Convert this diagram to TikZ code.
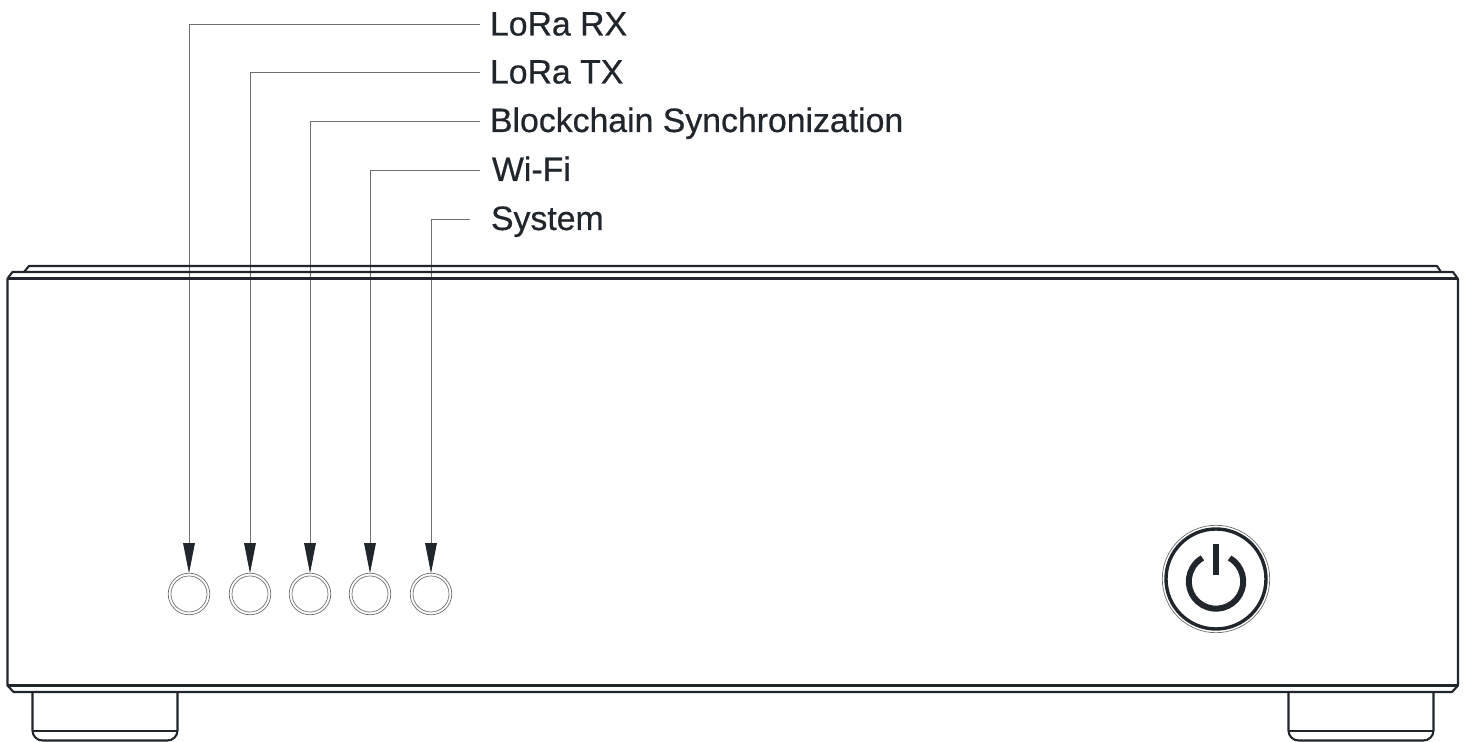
\documentclass[tikz,border=0pt]{standalone}
\usepackage{fontspec}
\setmainfont{Liberation Sans}
\newfontfamily\labfont[FakeBold=0.6]{Liberation Sans}
\usetikzlibrary{arrows.meta}
\definecolor{ink}{HTML}{20262C}
\definecolor{lead}{HTML}{707070}
\tikzset{
  x=0.5pt,y=-0.5pt,
  body/.style={draw=ink,line width=1.05pt,line join=round},
  thickrule/.style={draw=ink,line width=1.3pt},
  ledring/.style={draw=lead,line width=0.35pt},
  led/.style={circle,ledring,minimum size=20.8pt,inner sep=0pt,outer sep=0pt},
  lab/.style={anchor=west,font=\labfont\fontsize{16.9pt}{18pt}\selectfont,text=ink,inner xsep=5pt,inner ysep=0pt,outer sep=0pt,text height=12pt,text depth=1pt},
  leader/.style={draw=lead,line width=0.45pt,-{Triangle[length=15pt,width=5.8pt,color=ink]}},
}
\begin{document}
\begin{tikzpicture}
\useasboundingbox (0,0) rectangle (1464,742);
% LEDs
\foreach \n/\xx in {1/189,2/250,3/310,4/370,5/431}{
  \node[led] (d\n) at (\xx,594) {};
  \draw[ledring] (d\n) circle (9pt);
}
% labels
\node[lab] (l1) at (480,24.5) {LoRa RX};
\node[lab] (l2) at (480,72.5) {LoRa TX};
\node[lab] (l3) at (480,121) {Blockchain Synchronization};
\node[lab,inner xsep=6pt] (l4) at (480,170) {Wi-Fi};
\node[lab,inner xsep=10.5pt] (l5) at (470,219) {System};
\foreach \n in {1,...,5}{
  \draw[leader] (l\n.west) -| (d\n.north);
}
% case
\draw[body] (24,272) -- (29,266) -- (1437,266) -- (1441,272);
\draw[body] (7.5,278.5) -- (12.5,272) -- (1453,272) -- (1458,279);
\draw[body] (7.5,278.5) -- (1458,278.5);
\draw[body] (7.5,278.5) -- (7.5,685.5) -- (13.5,692) -- (1452,692) -- (1458,685.5) -- (1458,278.5);
\draw[body] (7.5,685.5) -- (1458,685.5);
% feet
\foreach \fx in {32.5,1288.5}{
  \draw[body,rounded corners=5pt] (\fx,692) -- (\fx,740.5) -- (\fx+145,740.5) -- (\fx+145,692);
  \draw[thickrule] (\fx,731) -- (\fx+145,731);
}
% power button
\node[circle,draw=lead,line width=0.35pt,minimum size=53.7pt,inner sep=0pt,outer sep=0pt] (pw) at (1216,579) {};
\draw[draw=ink,line width=1.7pt] (pw) circle (25pt);
\draw[draw=ink,line width=3pt] (1216,581.5) ++(60:13.6pt) arc[start angle=60,end angle=-240,radius=13.6pt];
\draw[draw=ink,line width=3.4pt] (1216,544) -- (1216,575);
\end{tikzpicture}
\end{document}
